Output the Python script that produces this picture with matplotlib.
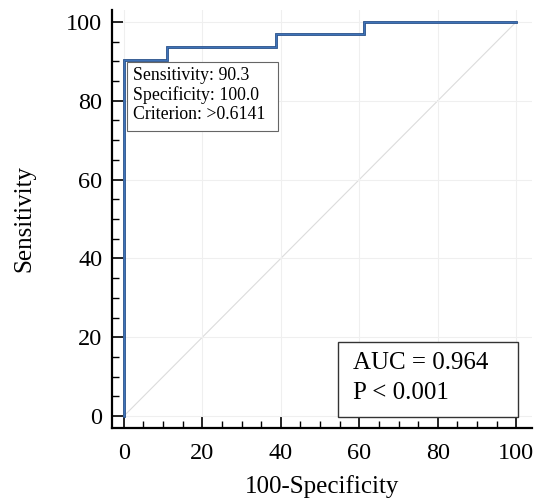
import numpy as np
import matplotlib
matplotlib.use('Agg')
import matplotlib.pyplot as plt
from matplotlib.ticker import MultipleLocator
from matplotlib.patches import Rectangle

# ROC curve points (100-Specificity, Sensitivity)
fpr = [0, 0, 11.1, 11.1, 38.9, 38.9, 61.1, 61.1, 100]
tpr = [0, 90.3, 90.3, 93.5, 93.5, 96.8, 96.8, 100, 100]

auc_lines = ['AUC = 0.964', 'P < 0.001']
cut_lines = ['Sensitivity: 90.3', 'Specificity: 100.0', 'Criterion: >0.6141']

plt.rcParams['font.family'] = ['Liberation Serif', 'DejaVu Serif']

fig = plt.figure(figsize=(5.39, 5.03), dpi=100)
ax = fig.add_axes([112/539, 75/503, 420/539, 418/503])

ax.plot([0, 100], [0, 100], color='#dcdcdc', lw=0.8, zorder=1)
ax.plot(fpr, tpr, color='#264f8a', lw=2.0, zorder=3, solid_joinstyle='miter')
ax.plot(fpr, tpr, color='#3f73b8', lw=0.8, zorder=4, solid_joinstyle='miter')

ax.set_xlim(-3, 104)
ax.set_ylim(-3, 103)
ax.spines['top'].set_visible(False)
ax.spines['right'].set_visible(False)
ax.spines['left'].set_linewidth(1.6)
ax.spines['bottom'].set_linewidth(1.6)

ax.xaxis.set_major_locator(MultipleLocator(20))
ax.xaxis.set_minor_locator(MultipleLocator(5))
ax.yaxis.set_major_locator(MultipleLocator(20))
ax.yaxis.set_minor_locator(MultipleLocator(5))
ax.tick_params(which='major', direction='in', length=8, width=1.2, labelsize=17.5, pad=7)
ax.tick_params(axis='x', which='major', pad=11)
ax.tick_params(which='minor', direction='in', length=5, width=1.0)
ax.grid(True, which='major', color='#efefef', lw=0.8, zorder=0)

ax.set_xlabel('100-Specificity', fontsize=18, labelpad=8)
ax.set_ylabel('Sensitivity', fontsize=18, labelpad=22)

# cut-off box
ax.add_patch(Rectangle((0.8, 72.3), 38.4, 17.5, fc='white', ec='#666666', lw=0.8, zorder=5))
for i, s in enumerate(cut_lines):
    ax.text(2.3, 86.4 - i * 4.95, s, fontsize=12.8, va='center', ha='left', zorder=6)

# AUC box
ax.add_patch(Rectangle((54.7, -0.3), 45.8, 19.1, fc='white', ec='#333333', lw=1.0, zorder=5))
for i, s in enumerate(auc_lines):
    ax.text(58.5, 13.6 - i * 7.7, s, fontsize=18, va='center', ha='left', zorder=6)

fig.savefig('out.png', dpi=100)
